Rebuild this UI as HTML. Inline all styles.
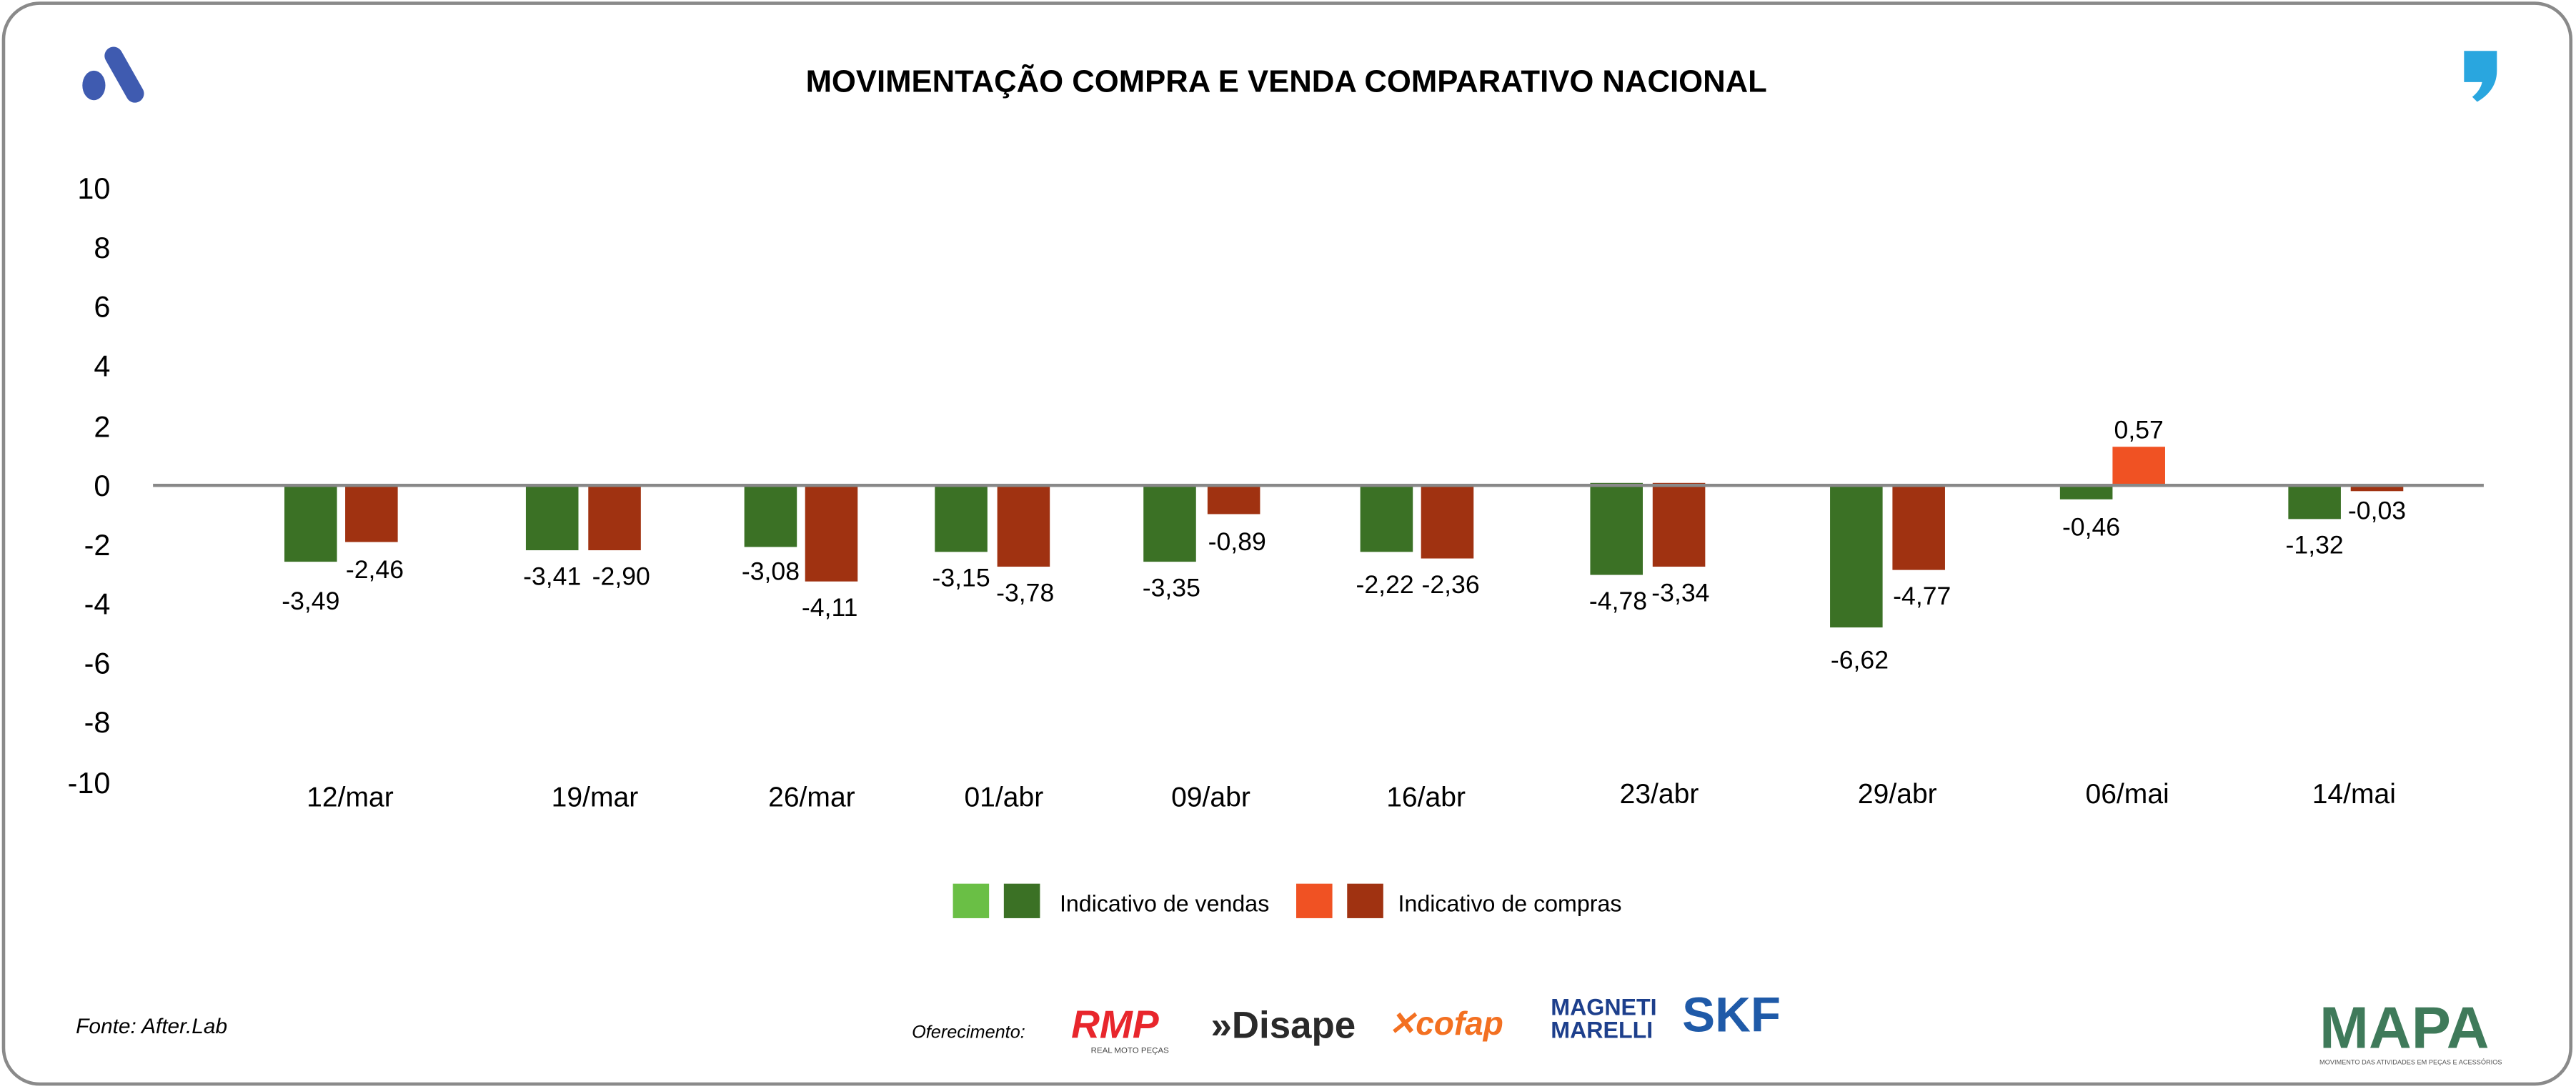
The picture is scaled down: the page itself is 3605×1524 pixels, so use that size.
<!DOCTYPE html>
<html><head><meta charset="utf-8"><style>
html,body{margin:0;padding:0;background:#fff;width:3605px;height:1524px;overflow:hidden}
svg{display:block}
text{font-family:"Liberation Sans Narrow","Liberation Sans",sans-serif}
</style></head><body>
<svg width="3605" height="1524" viewBox="0 0 1568 663" xmlns="http://www.w3.org/2000/svg">
<rect x="2" y="2" width="1563" height="658" rx="22" fill="#fff" stroke="#8a8a8a" stroke-width="2"/>
<!-- logo A -->
<g fill="#3f5bb0">
<line x1="69" y1="34" x2="82" y2="57" stroke="#3f5bb0" stroke-width="11" stroke-linecap="round"/>
<ellipse cx="57" cy="52" rx="7" ry="9"/>
</g>
<path d="M1500 31 h20 v12 q0 12 -12 19 l-3 -3 q5 -4 6 -9 h-11z" fill="#29a6df"/>
<text x="783" y="56" text-anchor="middle" font-size="19" font-weight="bold" fill="#000">MOVIMENTAÇÃO COMPRA E VENDA COMPARATIVO NACIONAL</text>
<g font-size="18" text-anchor="end" fill="#000">
<text x="67" y="121">10</text><text x="67" y="157">8</text><text x="67" y="193">6</text>
<text x="67" y="229">4</text><text x="67" y="266">2</text><text x="67" y="302">0</text>
<text x="67" y="338">-2</text><text x="67" y="374">-4</text><text x="67" y="410">-6</text>
<text x="67" y="446">-8</text><text x="67" y="483">-10</text>
</g>
<g fill="#3b7125">
<rect x="173" y="295" width="32" height="47"/>
<rect x="320" y="295" width="32" height="40"/>
<rect x="453" y="295" width="32" height="38"/>
<rect x="569" y="295" width="32" height="41"/>
<rect x="696" y="295" width="32" height="47"/>
<rect x="828" y="295" width="32" height="41"/>
<rect x="968" y="294" width="32" height="56"/>
<rect x="1114" y="295" width="32" height="87"/>
<rect x="1254" y="295" width="32" height="9"/>
<rect x="1393" y="295" width="32" height="21"/>
</g>
<g fill="#a03211">
<rect x="210" y="295" width="32" height="35"/>
<rect x="358" y="295" width="32" height="40"/>
<rect x="490" y="295" width="32" height="59"/>
<rect x="607" y="295" width="32" height="50"/>
<rect x="735" y="295" width="32" height="18"/>
<rect x="865" y="295" width="32" height="45"/>
<rect x="1006" y="294" width="32" height="51"/>
<rect x="1152" y="295" width="32" height="52"/>
<rect x="1431" y="295" width="32" height="4"/>
</g>
<rect x="1286" y="272" width="32" height="23" fill="#f05223"/>
<line x1="93" y1="295.5" x2="1512" y2="295.5" stroke="#888" stroke-width="2"/>
<g font-size="15.5" text-anchor="middle" fill="#000">
<text x="189" y="371">-3,49</text><text x="228" y="352">-2,46</text>
<text x="336" y="356">-3,41</text><text x="378" y="356">-2,90</text>
<text x="469" y="353">-3,08</text><text x="505" y="375">-4,11</text>
<text x="585" y="357">-3,15</text><text x="624" y="366">-3,78</text>
<text x="713" y="363">-3,35</text><text x="753" y="335">-0,89</text>
<text x="843" y="361">-2,22</text><text x="883" y="361">-2,36</text>
<text x="985" y="371">-4,78</text><text x="1023" y="366">-3,34</text>
<text x="1132" y="407">-6,62</text><text x="1170" y="368">-4,77</text>
<text x="1273" y="326">-0,46</text><text x="1302" y="267">0,57</text>
<text x="1409" y="337">-1,32</text><text x="1447" y="316">-0,03</text>
</g>
<g font-size="17" text-anchor="middle" fill="#000">
<text x="213" y="491">12/mar</text><text x="362" y="491">19/mar</text>
<text x="494" y="491">26/mar</text><text x="611" y="491">01/abr</text>
<text x="737" y="491">09/abr</text><text x="868" y="491">16/abr</text>
<text x="1010" y="489">23/abr</text><text x="1155" y="489">29/abr</text>
<text x="1295" y="489">06/mai</text><text x="1433" y="489">14/mai</text>
</g>
<rect x="580" y="538" width="22" height="21" fill="#6abf45"/>
<rect x="611" y="538" width="22" height="21" fill="#3b7125"/>
<text x="645" y="555" font-size="14" fill="#000">Indicativo de vendas</text>
<rect x="789" y="538" width="22" height="21" fill="#f05223"/>
<rect x="820" y="538" width="22" height="21" fill="#a03211"/>
<text x="851" y="555" font-size="14" fill="#000">Indicativo de compras</text>
<text x="46" y="629" font-size="13" font-style="italic" fill="#000">Fonte: After.Lab</text>
<text x="555" y="632" font-size="11" font-style="italic" fill="#000">Oferecimento:</text>
<text x="652" y="632" font-size="24" font-weight="bold" font-style="italic" fill="#e8262c">RMP</text>
<text x="664" y="641" font-size="5" fill="#444">REAL MOTO PEÇAS</text>
<text x="737" y="632" font-size="23" font-weight="bold" fill="#2a2a2a">»Disape</text>
<text x="845" y="630" font-size="20" font-weight="bold" font-style="italic" fill="#f37021">✕cofap</text>
<text x="944" y="618" font-size="14" font-weight="bold" fill="#1d3f8c">MAGNETI</text>
<text x="944" y="632" font-size="14" font-weight="bold" fill="#1d3f8c">MARELLI</text>
<text x="1024" y="628" font-size="30" font-weight="bold" fill="#1f5aa8">SKF</text>
<text x="1412" y="638" font-size="36" font-weight="bold" fill="#3f7a5a">MAPA</text>
<text x="1412" y="648" font-size="4" fill="#555">MOVIMENTO DAS ATIVIDADES EM PEÇAS E ACESSÓRIOS</text>
</svg>
</body></html>
